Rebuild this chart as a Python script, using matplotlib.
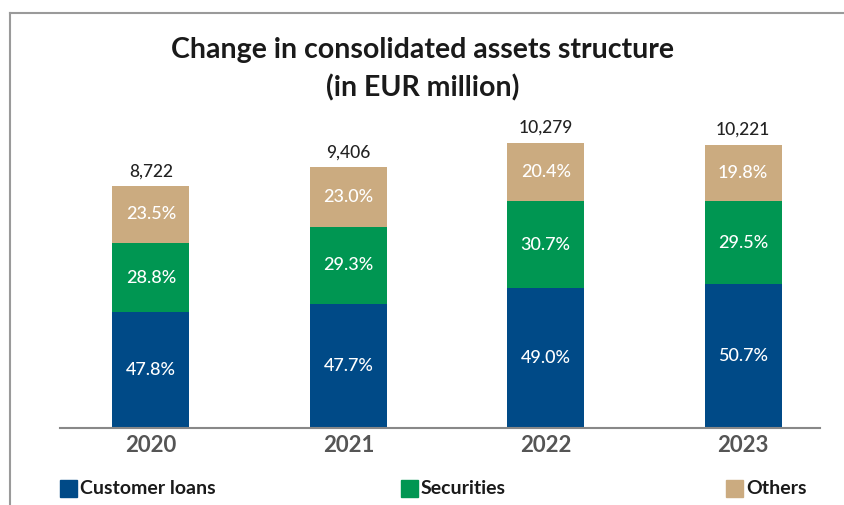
import matplotlib.pyplot as plt
from matplotlib.lines import Line2D
from matplotlib.patches import Rectangle
import numpy as np

plt.rcParams['font.family'] = ['Lato', 'DejaVu Sans']

years = ['2020', '2021', '2022', '2023']
totals = [8722, 9406, 10279, 10221]
loans_pct = [47.8, 47.7, 49.0, 50.7]
securities_pct = [28.8, 29.3, 30.7, 29.5]
others_pct = [23.5, 23.0, 20.4, 19.8]

series = ['Customer loans', 'Securities', 'Others']
colors = ['#004a87', '#009652', '#cbab80']

fig = plt.figure(figsize=(8.45, 5.05), dpi=100)
ax = fig.add_axes([60 / 845, (505 - 428) / 505, 760 / 845, 318 / 505])

x = np.arange(len(years))
tot = np.array(totals, dtype=float)
bottom = np.zeros(len(years))
for pct, col in zip([loans_pct, securities_pct, others_pct], colors):
    vals = tot * np.array(pct) / 100
    ax.bar(x, vals, width=0.39, bottom=bottom, color=col)
    for xi, b, v, p in zip(x, bottom, vals, pct):
        ax.text(xi, b + v / 2, f'{p:.1f}%', color='white', fontsize=13,
                fontweight='medium', ha='center', va='center')
    bottom += vals

for xi, t in zip(x, totals):
    ax.text(xi, t + 250, f'{t:,}', ha='center', va='bottom', fontsize=12.5,
            fontweight='medium', color='#222222')

ax.set_xlim(-0.461, 3.39)
ax.set_ylim(0, 11470)
ax.set_xticks(x)
ax.set_xticklabels(years, fontsize=16, fontweight='bold', color='#555555')
ax.tick_params(axis='x', length=0, pad=5)
ax.set_yticks([])
for s in ['top', 'right', 'left']:
    ax.spines[s].set_visible(False)
ax.spines['bottom'].set_color('#888888')
ax.spines['bottom'].set_linewidth(1.5)

fig.text(0.5, 1 - 50 / 505, 'Change in consolidated assets structure',
         ha='center', va='center', fontsize=20.5, fontweight='bold', color='#1a1a1a')
fig.text(0.5, 1 - 88 / 505, '(in EUR million)',
         ha='center', va='center', fontsize=20.5, fontweight='bold', color='#1a1a1a')

# legend
leg_x = [60, 401, 726]
for lx, name, col in zip(leg_x, series, colors):
    fig.patches.append(Rectangle((lx / 845, 1 - 497 / 505), 17 / 845, 17 / 505,
                                 transform=fig.transFigure, color=col))
    fig.text((lx + 20) / 845, 1 - 488 / 505, name, ha='left', va='center',
             fontsize=14, fontweight='bold', color='#1a1a1a')

# frame lines top and left
fig.add_artist(Line2D([10 / 845, 1], [1 - 13 / 505, 1 - 13 / 505],
                      transform=fig.transFigure, color='#9a9a9a', lw=1.5))
fig.add_artist(Line2D([10 / 845, 10 / 845], [0, 1 - 13 / 505],
                      transform=fig.transFigure, color='#9a9a9a', lw=1.5))

fig.savefig('out.png', dpi=100)
